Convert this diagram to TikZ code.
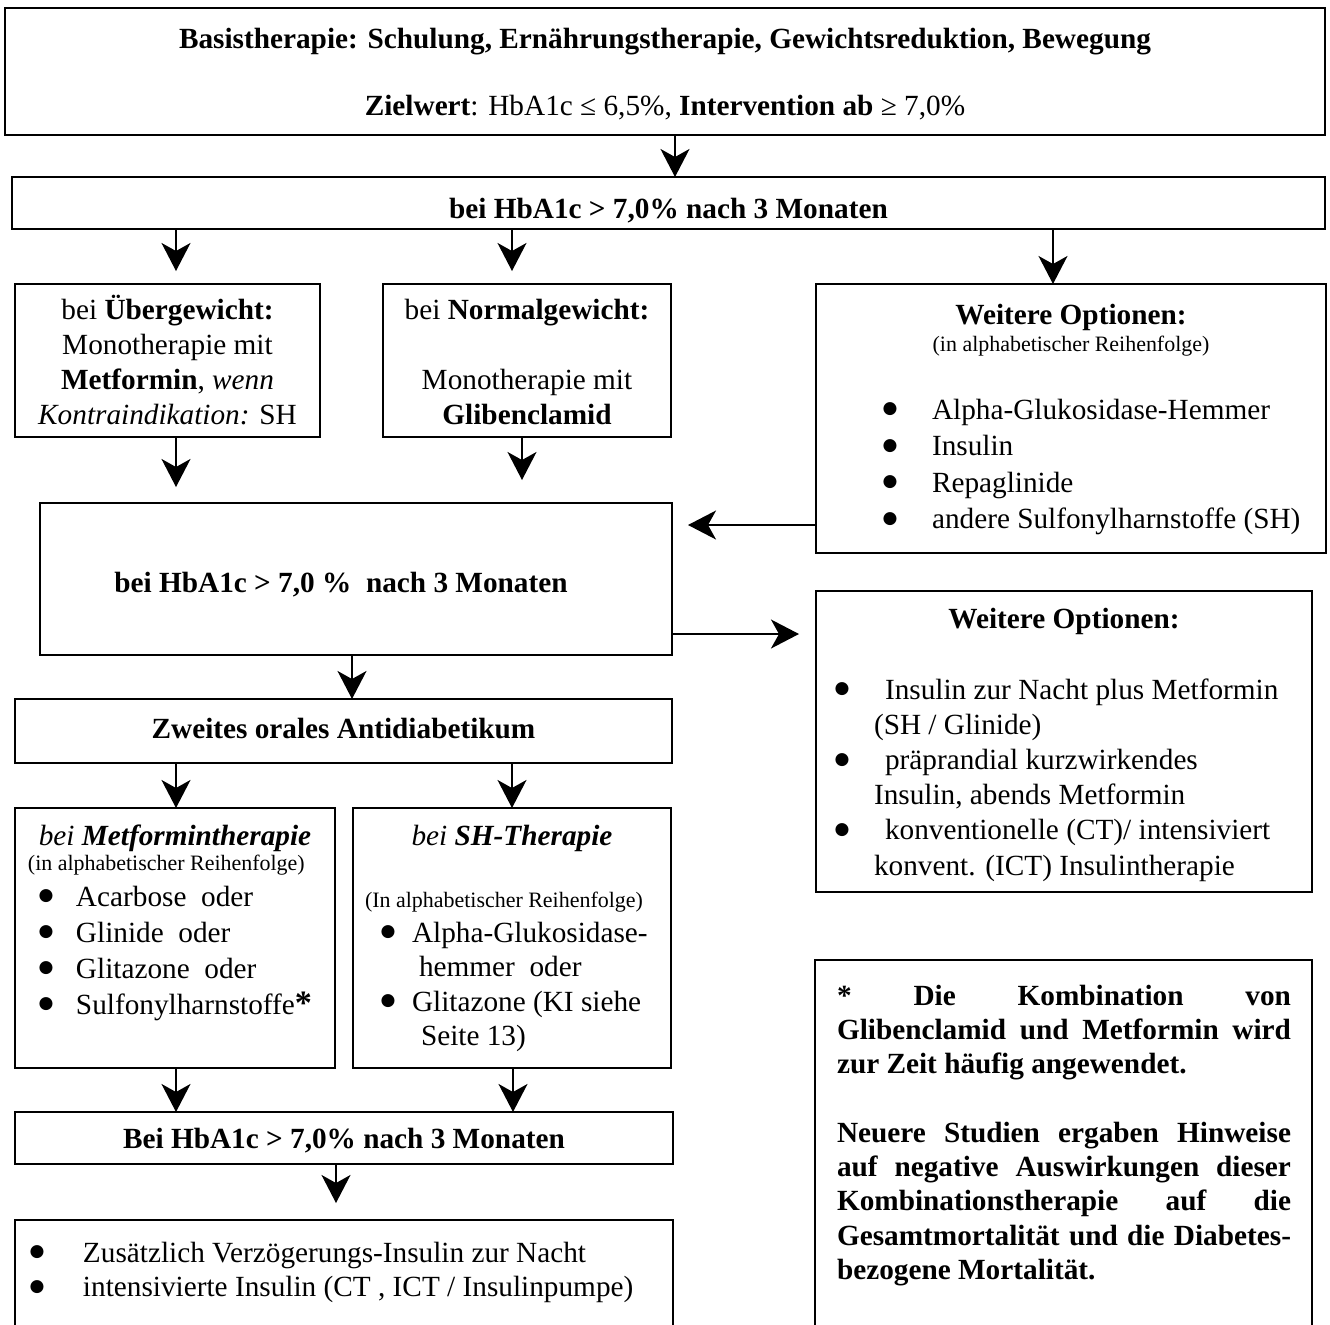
\documentclass[tikz,border=0pt]{standalone}
\usepackage{fontspec}
\setmainfont{Liberation Serif}
\newfontfamily\dotfont{DejaVu Sans}
\usetikzlibrary{arrows.meta}

\newlength\pxu
\setlength\pxu{0.41pt}
\newcommand{\tstrut}{\rule{0pt}{26\pxu}}
\newcommand{\cellbox}[5]{\parbox[c][#2\pxu][t]{#1\pxu}{\raggedright\setlength{\baselineskip}{#3\pxu}\vspace*{#4\pxu}#5}}
\newcommand{\bul}[3]{\makebox[#2\pxu][l]{\hspace*{#1\pxu}\makebox[0pt]{\raisebox{2.1pt}{\dotfont\fontsize{7}{8}\selectfont ●}}}#3}
\newcommand{\smalltxt}[1]{{\fontsize{9}{10}\selectfont #1}}

\begin{document}
\begin{tikzpicture}[
    x=0.41pt, y=-0.41pt,
    font=\fontsize{12}{14}\selectfont,
    box/.style={draw, line width=0.6pt, inner sep=0pt, outer sep=0pt, anchor=north west},
    arrow/.style={-{Stealth[length=11.5pt, width=11.9pt, inset=3.3pt]}, line width=0.6pt}
]
\useasboundingbox (0,0) rectangle (1330,1324);
\clip (0,0) rectangle (1330,1324);

\node[box] (basis) at (5,8) {\cellbox{1320}{127}{34}{14}{\centering\tstrut\textbf{Basistherapie: Schulung, Ernährungstherapie, Gewichtsreduktion, Bewegung}\\[33\pxu]\textbf{Zielwert}: HbA1c ≤ 6,5\%, \textbf{Intervention ab} ≥ 7,0\%}};
\node[box] (hba) at (12,177) {\cellbox{1313}{52}{34}{15}{\centering\tstrut\textbf{bei HbA1c > 7,0\% nach 3 Monaten}}};

\node[box] (ueber) at (15,284) {\cellbox{305}{153}{35}{9}{\centering\tstrut bei \textbf{Übergewicht:}\\Monotherapie mit\\\textbf{Metformin}, \textit{wenn}\\\textit{Kontraindikation:} SH}};
\node[box] (normal) at (383,284) {\cellbox{288}{153}{35}{9}{\centering\tstrut bei \textbf{Normalgewicht:}\\[35\pxu]Monotherapie mit\\\textbf{Glibenclamid}}};
\node[box] (weiter) at (816,284) {\cellbox{510}{269}{36.5}{14}{%
  \makebox[\linewidth]{\tstrut\textbf{Weitere Optionen:}}\\[-9.5\pxu]
  \makebox[\linewidth]{\smalltxt{(in alphabetischer Reihenfolge)}}\\[31.5\pxu]
  \bul{74}{116}{Alpha-Glukosidase-Hemmer}\\
  \bul{74}{116}{Insulin}\\
  \bul{74}{116}{Repaglinide}\\
  \bul{74}{116}{andere Sulfonylharnstoffe (SH)}}};

\node[box] (hbb) at (40,503) {\cellbox{632}{152}{34}{63}{\centering\tstrut\textbf{bei HbA1c > 7,0 \%\ \ nach 3 Monaten}\hspace*{30\pxu}}};
\node[box] (optb) at (816,591) {\cellbox{496}{301}{35.2}{11}{%
  \makebox[\linewidth]{\tstrut\textbf{Weitere Optionen:}}\\[35.8\pxu]
  \bul{26}{69}{Insulin zur Nacht plus Metformin}\\
  \hspace*{58\pxu}(SH / Glinide)\\
  \bul{26}{69}{präprandial kurzwirkendes}\\
  \hspace*{58\pxu}Insulin, abends Metformin\\
  \bul{26}{69}{konventionelle (CT)/ intensiviert}\\
  \hspace*{58\pxu}konvent. (ICT) Insulintherapie}};

\node[box] (zweit) at (15,699) {\cellbox{657}{64}{34}{13}{\centering\tstrut\textbf{Zweites orales Antidiabetikum}}};
\node[box] (metf) at (15,808) {\cellbox{320}{260}{36}{11}{%
  \makebox[\linewidth]{\tstrut\textit{bei \textbf{Metformintherapie}}}\\[-11\pxu]
  \hspace*{13\pxu}\smalltxt{(in alphabetischer Reihenfolge)}\\
  \bul{31}{61}{Acarbose\ \ oder}\\
  \bul{31}{61}{Glinide\ \ oder}\\
  \bul{31}{61}{Glitazone\ \ oder}\\
  \bul{31}{61}{Sulfonylharnstoffe{\fontsize{14}{14}\selectfont\textbf{*}}}}};
\node[box] (sh) at (353,808) {\cellbox{318}{260}{34.5}{11}{%
  \makebox[\linewidth]{\tstrut\textit{bei \textbf{SH-Therapie}}}\\[27.5\pxu]
  \hspace*{12\pxu}\smalltxt{(In alphabetischer Reihenfolge)}\\[0.5\pxu]
  \bul{35}{59}{Alpha-Glukosidase-}\\
  \hspace*{66\pxu}hemmer\ \ oder\\
  \bul{35}{59}{Glitazone (KI siehe}\\
  \hspace*{68\pxu}Seite 13)}};

\node[box] (hbc) at (15,1112) {\cellbox{658}{52}{34}{10}{\centering\tstrut\textbf{Bei HbA1c > 7,0\% nach 3 Monaten}}};
\node[box] (final) at (15,1220) {\cellbox{658}{130}{34.5}{16}{%
  \tstrut\bul{22}{68}{Zusätzlich Verzögerungs-Insulin zur Nacht}\\
  \bul{22}{68}{intensivierte Insulin (CT , ICT / Insulinpumpe)}}};
\node[box] (note) at (815,960) {\cellbox{497}{390}{34.3}{19}{\bfseries
  \hspace*{22\pxu}\makebox[454\pxu][s]{\tstrut* Die Kombination von}\\
  \hspace*{22\pxu}\makebox[454\pxu][s]{Glibenclamid und Metformin wird}\\
  \hspace*{22\pxu}zur Zeit häufig angewendet.\\[34.3\pxu]
  \hspace*{22\pxu}\makebox[454\pxu][s]{Neuere Studien ergaben Hinweise}\\
  \hspace*{22\pxu}\makebox[454\pxu][s]{auf negative Auswirkungen dieser}\\
  \hspace*{22\pxu}\makebox[454\pxu][s]{Kombinationstherapie auf die}\\
  \hspace*{22\pxu}\makebox[454\pxu][s]{Gesamtmortalität und die Diabetes-}\\
  \hspace*{22\pxu}bezogene Mortalität.}};

\draw[arrow] ([xshift=670\pxu]basis.south west) -- ([xshift=663\pxu]hba.north west);
\draw[arrow, shorten >=13\pxu] ([xshift=164\pxu]hba.south west) -- ([xshift=161\pxu]ueber.north west);
\draw[arrow, shorten >=13\pxu] ([xshift=500\pxu]hba.south west) -- ([xshift=129\pxu]normal.north west);
\draw[arrow] ([xshift=1041\pxu]hba.south west) -- ([xshift=237\pxu]weiter.north west);
\draw[arrow, shorten >=16\pxu] ([xshift=161\pxu]ueber.south west) -- ([xshift=136\pxu]hbb.north west);
\draw[arrow, shorten >=23\pxu] ([xshift=139\pxu]normal.south west) -- ([xshift=482\pxu]hbb.north west);
\draw[arrow, shorten >=16\pxu] ([yshift=-241\pxu]weiter.north west) -- ([yshift=-22\pxu]hbb.north east);
\draw[arrow, shorten >=17\pxu] ([yshift=-131\pxu]hbb.north east) -- ([yshift=-43\pxu]optb.north west);
\draw[arrow] ([xshift=312\pxu]hbb.south west) -- ([xshift=337\pxu]zweit.north west);
\draw[arrow] ([xshift=161\pxu]zweit.south west) -- ([xshift=161\pxu]metf.north west);
\draw[arrow] ([xshift=497\pxu]zweit.south west) -- ([xshift=159\pxu]sh.north west);
\draw[arrow] ([xshift=161\pxu]metf.south west) -- ([xshift=161\pxu]hbc.north west);
\draw[arrow] ([xshift=160\pxu]sh.south west) -- ([xshift=498\pxu]hbc.north west);
\draw[arrow, shorten >=17\pxu] ([xshift=321\pxu]hbc.south west) -- ([xshift=321\pxu]final.north west);
\end{tikzpicture}
\end{document}
